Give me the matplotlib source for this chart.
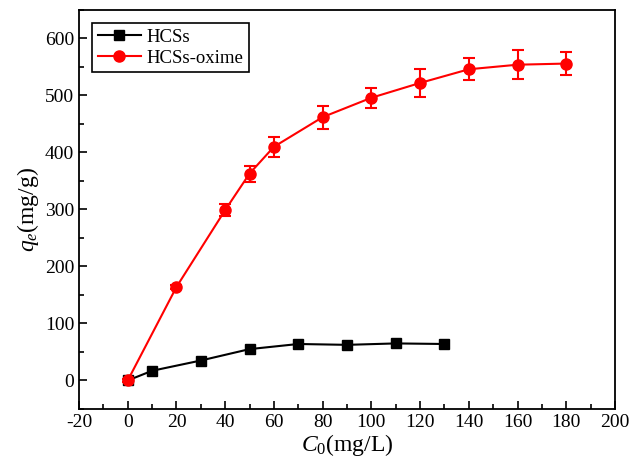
import numpy as np
import matplotlib.pyplot as plt
from matplotlib.ticker import MultipleLocator

plt.rcParams['font.family'] = ['Liberation Serif', 'DejaVu Serif']
plt.rcParams['mathtext.fontset'] = 'custom'
plt.rcParams['mathtext.it'] = 'Liberation Serif:italic'
plt.rcParams['mathtext.rm'] = 'Liberation Serif'
plt.rcParams['axes.unicode_minus'] = False

# adsorption capacity vs initial concentration
c0_hcss = [0, 10, 30, 50, 70, 90, 110, 130]
qe_hcss = [0, 17, 35, 55, 64, 62.5, 65, 64]

c0_oxime = [0, 20, 40, 50, 60, 80, 100, 120, 140, 160, 180]
qe_oxime = [0, 164, 299, 363, 410, 462, 496, 522, 546, 554, 556]
err_oxime = [2, 4, 10, 14, 18, 20, 18, 24, 19, 25, 20]

fig = plt.figure(figsize=(6.3, 4.69), dpi=100)
ax = fig.add_axes([0.1254, 0.128, 0.8508, 0.8507])

l1, = ax.plot(c0_hcss, qe_hcss, color='black', marker='s', markersize=6.5,
              linewidth=1.5, label='HCSs')
eb = ax.errorbar(c0_oxime, qe_oxime, yerr=err_oxime, color='red', marker='o',
                 markersize=8, linewidth=1.5, elinewidth=1.5, capsize=4,
                 capthick=1.5, label='HCSs-oxime')

ax.set_xlim(-20, 200)
ax.set_ylim(-50, 650)
ax.xaxis.set_major_locator(MultipleLocator(20))
ax.xaxis.set_minor_locator(MultipleLocator(10))
ax.yaxis.set_major_locator(MultipleLocator(100))
ax.yaxis.set_minor_locator(MultipleLocator(50))
ax.tick_params(which='both', direction='in', top=False, right=False,
               labelsize=14, width=1.2)
ax.tick_params(which='major', length=6)
ax.tick_params(which='minor', length=3.5)
for s in ax.spines.values():
    s.set_linewidth(1.3)

ax.set_xlabel(r'$C_{\mathrm{0}}$(mg/L)', fontsize=17, labelpad=1)
ax.set_ylabel(r'$q_e$(mg/g)', fontsize=17, labelpad=3)

# plain line handles in the legend, no error bars
leg = ax.legend([l1, eb.lines[0]], ['HCSs', 'HCSs-oxime'], loc='upper left',
                fontsize=13.5, fancybox=False, edgecolor='black', framealpha=1,
                handlelength=2.3, borderpad=0.3, labelspacing=0.2,
                handletextpad=0.3, borderaxespad=0.7)
leg.get_frame().set_linewidth(1.2)

fig.savefig('out.png', dpi=100)
